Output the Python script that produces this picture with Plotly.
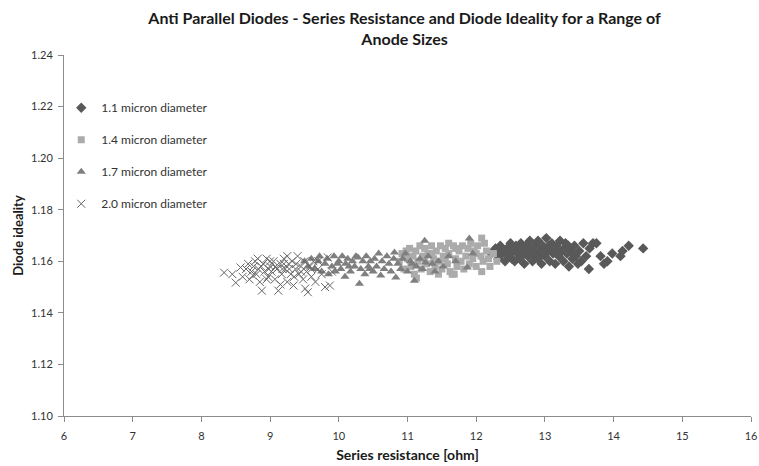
import plotly.graph_objects as go

# ---- data ----
d11_pairs = [
    (12.22, 1.163), (12.28, 1.165), (12.32, 1.161), (12.35, 1.166), (12.38, 1.163), (12.42, 1.160), (12.45, 1.165), (12.48, 1.162), (12.50, 1.167), (12.53, 1.164),
    (12.56, 1.160), (12.58, 1.166), (12.60, 1.163), (12.63, 1.161), (12.65, 1.167), (12.68, 1.164), (12.70, 1.159), (12.72, 1.166), (12.75, 1.162), (12.78, 1.168),
    (12.80, 1.164), (12.82, 1.160), (12.85, 1.166), (12.88, 1.162), (12.90, 1.168), (12.92, 1.164), (12.95, 1.159), (12.97, 1.166), (13.00, 1.162), (13.02, 1.169),
    (13.05, 1.164), (13.07, 1.160), (13.10, 1.167), (13.12, 1.163), (13.15, 1.159), (13.17, 1.166), (13.20, 1.162), (13.22, 1.168), (13.25, 1.164), (13.27, 1.160),
    (13.30, 1.167), (13.32, 1.163), (13.35, 1.158), (13.38, 1.165), (13.40, 1.161), (13.43, 1.166), (13.45, 1.162), (13.48, 1.159), (13.50, 1.164), (13.53, 1.160),
    (13.56, 1.167), (13.60, 1.162), (13.64, 1.157), (13.65, 1.165), (13.70, 1.167), (13.75, 1.167), (13.81, 1.162), (13.86, 1.159), (13.91, 1.160), (13.98, 1.163),
    (14.10, 1.162), (14.13, 1.164), (14.22, 1.166), (14.43, 1.165), (12.40, 1.164), (12.62, 1.165), (12.84, 1.163), (13.06, 1.166), (13.28, 1.165), (12.52, 1.161),
    (12.74, 1.165), (12.96, 1.163), (13.18, 1.164), (13.40, 1.163), (12.30, 1.164), (12.66, 1.162), (13.00, 1.165), (13.34, 1.166), (12.90, 1.161), (13.10, 1.165),
]
d14_pairs = [
    (10.88, 1.160), (10.92, 1.163), (10.95, 1.157), (11.00, 1.161), (11.03, 1.165), (11.05, 1.158), (11.08, 1.162), (11.10, 1.155), (11.12, 1.164), (11.15, 1.160),
    (11.18, 1.166), (11.20, 1.157), (11.22, 1.162), (11.25, 1.165), (11.28, 1.159), (11.30, 1.163), (11.33, 1.156), (11.35, 1.166), (11.38, 1.161), (11.40, 1.158),
    (11.42, 1.164), (11.45, 1.160), (11.48, 1.166), (11.50, 1.157), (11.52, 1.162), (11.55, 1.165), (11.58, 1.159), (11.60, 1.163), (11.62, 1.156), (11.65, 1.155),
    (11.67, 1.166), (11.70, 1.161), (11.72, 1.158), (11.75, 1.164), (11.78, 1.160), (11.80, 1.166), (11.82, 1.157), (11.85, 1.162), (11.88, 1.165), (11.90, 1.159),
    (11.92, 1.167), (11.95, 1.161), (11.97, 1.164), (12.00, 1.158), (12.02, 1.166), (12.08, 1.169), (12.07, 1.162), (12.10, 1.160), (12.12, 1.167), (12.15, 1.164),
    (12.18, 1.161), (12.20, 1.158), (12.25, 1.163), (12.30, 1.160), (11.13, 1.1535), (11.45, 1.155), (11.68, 1.155), (12.08, 1.156), (10.98, 1.164), (11.25, 1.161),
    (11.55, 1.161), (11.70, 1.165), (12.00, 1.163), (11.35, 1.163), (11.60, 1.167),
]
d17_pairs = [
    (9.50, 1.160), (9.55, 1.158), (9.60, 1.161), (9.65, 1.157), (9.70, 1.160), (9.72, 1.162), (9.75, 1.156), (9.80, 1.159), (9.83, 1.161), (9.85, 1.155),
    (9.90, 1.158), (9.93, 1.162), (9.95, 1.156), (10.00, 1.160), (10.03, 1.157), (10.05, 1.162), (10.09, 1.154), (10.10, 1.159), (10.13, 1.161), (10.17, 1.156),
    (10.20, 1.160), (10.23, 1.158), (10.25, 1.162), (10.28, 1.1615), (10.30, 1.1513), (10.32, 1.157), (10.35, 1.160), (10.38, 1.155), (10.40, 1.162), (10.43, 1.158),
    (10.46, 1.160), (10.50, 1.156), (10.52, 1.161), (10.55, 1.158), (10.58, 1.163), (10.61, 1.1545), (10.63, 1.160), (10.66, 1.157), (10.70, 1.162), (10.73, 1.159),
    (10.76, 1.156), (10.80, 1.161), (10.81, 1.1634), (10.83, 1.1537), (10.86, 1.159), (10.90, 1.157), (10.93, 1.161), (10.97, 1.163), (11.00, 1.156), (11.04, 1.160),
    (11.07, 1.159), (11.10, 1.1525), (11.13, 1.158), (11.18, 1.161), (11.22, 1.157), (11.25, 1.168), (11.26, 1.1595), (11.30, 1.162), (11.36, 1.159), (11.40, 1.156),
    (11.45, 1.160), (11.52, 1.158), (11.60, 1.162), (11.70, 1.160), (11.87, 1.1576), (11.90, 1.1688), (11.95, 1.163), (10.15, 1.158), (10.45, 1.157), (9.98, 1.159),
]
d20_pairs = [
    (8.33, 1.1556), (8.45, 1.155), (8.50, 1.1517), (8.57, 1.1576), (8.60, 1.154), (8.65, 1.157), (8.68, 1.159), (8.70, 1.153), (8.73, 1.156), (8.76, 1.158),
    (8.78, 1.160), (8.80, 1.155), (8.83, 1.157), (8.85, 1.152), (8.88, 1.1486), (8.90, 1.159), (8.92, 1.156), (8.95, 1.161), (8.97, 1.154), (9.00, 1.158),
    (9.02, 1.156), (9.05, 1.160), (9.07, 1.153), (9.10, 1.157), (9.12, 1.1486), (9.15, 1.159), (9.17, 1.155), (9.20, 1.161), (9.22, 1.157), (9.25, 1.152),
    (9.27, 1.159), (9.30, 1.155), (9.32, 1.160), (9.34, 1.1506), (9.37, 1.157), (9.40, 1.162), (9.42, 1.155), (9.45, 1.158), (9.48, 1.153), (9.50, 1.160),
    (9.51, 1.1494), (9.53, 1.156), (9.55, 1.148), (9.58, 1.158), (9.60, 1.154), (9.63, 1.160), (9.66, 1.152), (9.70, 1.157), (9.75, 1.155), (9.80, 1.150),
    (9.84, 1.1615), (9.87, 1.1506), (9.90, 1.156), (8.75, 1.1545), (8.87, 1.158), (8.98, 1.157), (9.08, 1.158), (9.18, 1.157), (9.28, 1.157), (9.38, 1.159),
    (8.95, 1.153), (9.15, 1.151), (9.35, 1.154), (9.00, 1.160), (9.20, 1.159), (9.45, 1.156), (8.82, 1.161), (9.60, 1.157), (9.70, 1.160), (9.25, 1.162),
]

series_names = ["1.1 micron diameter", "1.4 micron diameter", "1.7 micron diameter", "2.0 micron diameter"]
series_data = [d11_pairs, d14_pairs, d17_pairs, d20_pairs]
x_ticks = [6, 7, 8, 9, 10, 11, 12, 13, 14, 15, 16]
y_ticks = [1.10, 1.12, 1.14, 1.16, 1.18, 1.20, 1.22, 1.24]

styles = [
    dict(symbol="diamond", size=8, color="#595959", line=dict(width=0)),
    dict(symbol="square", size=7, color="#ababab", line=dict(width=0)),
    dict(symbol="triangle-up", size=8, color="#7f7f7f", line=dict(width=0)),
    dict(symbol="x-thin-open", size=8, color="#666666", line=dict(width=1, color="#666666")),
]

FONT = "Lato, Carlito, Calibri, sans-serif"

fig = go.Figure()
for i, (name, pairs) in enumerate(zip(series_names, series_data)):
    fig.add_trace(go.Scatter(
        x=[p[0] for p in pairs], y=[p[1] for p in pairs],
        mode="markers", name=name, marker=styles[i], legendgroup=f"g{i}",
    ))

axis_common = dict(
    showgrid=False, zeroline=False, showline=True, linecolor="#8c8c8c", linewidth=1,
    ticks="outside", ticklen=5, tickcolor="#8c8c8c", automargin=False,
    tickfont=dict(family=FONT, size=11, color="#333333"),
)

fig.update_layout(
    width=759, height=466,
    margin=dict(l=64, r=8, t=55, b=50),
    paper_bgcolor="white", plot_bgcolor="white",
    title=dict(
        text="Anti Parallel Diodes - Series Resistance and Diode Ideality for a Range of<br>Anode Sizes",
        x=0.533, xanchor="center", y=0.948, yanchor="top",
        font=dict(family=FONT, size=16, color="#1a1a1a", weight="bold"),
    ),
    xaxis=dict(
        range=[6, 16], tickvals=x_ticks, ticktext=[str(v) for v in x_ticks],
        ticklabelstandoff=5, ticklabeloverflow="allow",
        title=dict(text="<b>Series resistance [ohm]</b>", font=dict(family=FONT, size=14, color="#1a1a1a"), standoff=8),
        **axis_common,
    ),
    yaxis=dict(
        range=[1.10, 1.24], tickvals=y_ticks, ticktext=[f"{v:.2f}" for v in y_ticks],
        ticklabelstandoff=3,
        title=dict(text="<b>Diode ideality</b>", font=dict(family=FONT, size=13, color="#1a1a1a"), standoff=4),
        **axis_common,
    ),
    legend=dict(
        x=-0.004, y=0.894, xanchor="left", yanchor="top",
        bgcolor="rgba(0,0,0,0)", font=dict(family=FONT, size=12, color="#333333"),
        tracegroupgap=13, itemwidth=30,
    ),
    showlegend=True,
)

fig.write_html(
    "out.html",
    config={"displayModeBar": False},
    post_script="document.body.style.margin='0';document.body.style.overflow='hidden';",
)
